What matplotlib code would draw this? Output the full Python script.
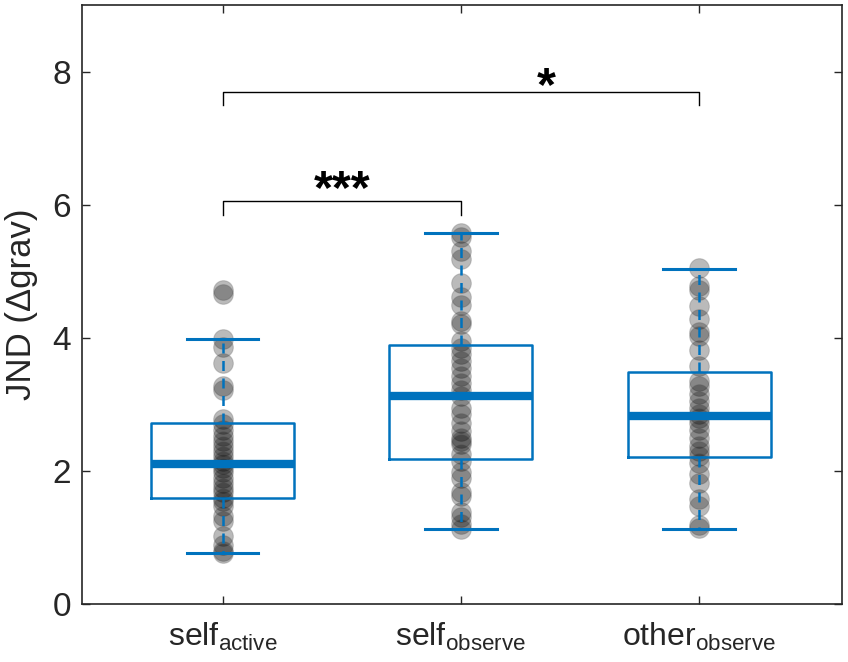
import numpy as np
import matplotlib
matplotlib.use("Agg")
import matplotlib.pyplot as plt

plt.rcParams['font.family'] = ['Liberation Sans', 'DejaVu Sans']
plt.rcParams['mathtext.fontset'] = 'custom'
plt.rcParams['mathtext.rm'] = 'Liberation Sans'
plt.rcParams['mathtext.it'] = 'Liberation Sans'

# conditions and tick labels
conditions = ['self_active', 'self_observe', 'other_observe']
tick_labels = [r'$\mathrm{self}_{\mathrm{active}}$',
               r'$\mathrm{self}_{\mathrm{observe}}$',
               r'$\mathrm{other}_{\mathrm{observe}}$']

# individual JNDs
self_active = [4.72, 4.66, 3.98, 3.86, 3.62, 3.27, 3.22, 2.78, 2.70, 2.62,
               2.52, 2.45, 2.38, 2.30, 2.22, 2.15, 2.10, 2.05, 1.98, 1.90,
               1.82, 1.75, 1.68, 1.60, 1.55, 1.47, 1.32, 1.24, 1.02, 0.88,
               0.80, 0.77]
self_observe = [5.58, 5.52, 5.30, 5.18, 4.82, 4.62, 4.50, 4.25, 4.20, 3.95,
                3.85, 3.75, 3.65, 3.55, 3.42, 3.32, 3.22, 3.12, 2.95, 2.85,
                2.72, 2.60, 2.50, 2.45, 2.40, 2.25, 2.15, 1.98, 1.90, 1.68,
                1.62, 1.38, 1.30, 1.20, 1.13]
other_observe = [5.05, 4.78, 4.72, 4.48, 4.28, 4.08, 4.02, 3.82, 3.58, 3.35,
                 3.28, 3.15, 3.05, 2.95, 2.85, 2.80, 2.72, 2.62, 2.50, 2.38,
                 2.30, 2.22, 2.12, 1.95, 1.82, 1.58, 1.48, 1.18, 1.14]

# box summary values (as drawn in the figure)
q1 = [1.59, 2.18, 2.21]
med = [2.10, 3.12, 2.83]
q3 = [2.72, 3.89, 3.49]
whis_lo = [0.77, 1.13, 1.13]
whis_hi = [3.98, 5.57, 5.04]

# significance brackets: (from, to, bracket height, label x, label y, label)
sig_pairs = [(1, 2, 6.05, 1.5, 5.88, '***'), (1, 3, 7.70, 2.36, 7.43, '*')]

blue = '#0072BD'

fig = plt.figure(figsize=(8.48, 6.62), dpi=100)
ax = fig.add_axes([0.0967, 0.0876, 0.8963, 0.9048])

groups = [self_active, self_observe, other_observe]
for i, vals in enumerate(groups):
    ax.scatter(np.full(len(vals), i + 1), vals, s=200, color='k',
               alpha=0.27, edgecolors='0.35', linewidths=0.8, zorder=2)

stats = []
for i in range(3):
    stats.append(dict(label=conditions[i], q1=q1[i], med=med[i], q3=q3[i],
                      whislo=whis_lo[i], whishi=whis_hi[i], fliers=[]))

ax.bxp(stats, positions=[1, 2, 3], widths=0.6, capwidths=0.3,
       showfliers=False, manage_ticks=False, zorder=3,
       boxprops=dict(color=blue, linewidth=1.8),
       medianprops=dict(color=blue, linewidth=6, solid_capstyle='butt'),
       whiskerprops=dict(color=blue, linewidth=1.8, linestyle=(0, (4, 3))),
       capprops=dict(color=blue, linewidth=2.2))

# brackets
for a, b, h, tx, ty, lab in sig_pairs:
    ax.plot([a, a, b, b], [h - 0.2, h, h, h - 0.2], color='k', lw=1.0, zorder=4)
    ax.text(tx, ty, lab, ha='center', va='bottom', fontsize=35,
            fontweight='bold')

ax.set_xlim(0.41, 3.6)
ax.set_ylim(0, 9)
ax.set_xticks([1, 2, 3])
ax.set_xticklabels(tick_labels, fontsize=23)
ax.set_yticks([0, 2, 4, 6, 8])
ax.tick_params(axis='y', labelsize=24, direction='in', length=6, width=1,
               right=True, pad=8, colors='#262626')
ax.tick_params(axis='x', direction='in', length=6, width=1, top=True,
               pad=12, colors='#262626')
for sp in ax.spines.values():
    sp.set_color('#262626')
    sp.set_linewidth(1.2)

ax.set_ylabel('JND (Δgrav)', fontsize=25, color='#262626')
ax.yaxis.set_label_coords(-0.058, 0.5)

fig.savefig('out.png', dpi=100)
